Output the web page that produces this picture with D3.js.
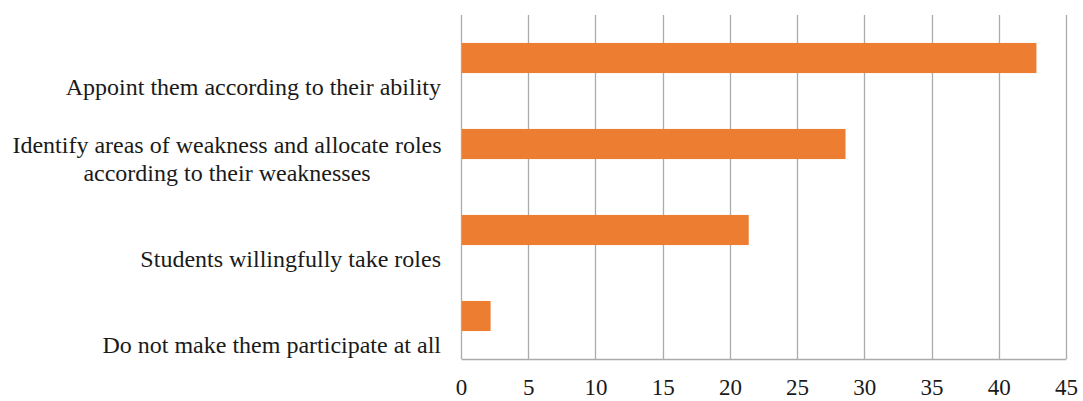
<!DOCTYPE html>
<html>
<head>
<meta charset="utf-8">
<script src="https://cdn.jsdelivr.net/npm/d3@7"></script>
<style>
  html, body { margin: 0; padding: 0; background: #fff; }
  svg text { font-family: "Liberation Serif", "Times New Roman", serif; fill: #1a1a1a; }
</style>
</head>
<body>
<svg id="chart" width="1083" height="401"></svg>
<script>
// Responses, top to bottom
const categories = [
  ["Appoint them according to their ability"],
  ["Identify areas of weakness and allocate roles", "according to their weaknesses"],
  ["Students willingfully take roles"],
  ["Do not make them participate at all"]
];
const values = [42.8, 28.6, 21.4, 2.2];
const xTicks = [0, 5, 10, 15, 20, 25, 30, 35, 40, 45];

const svg = d3.select("#chart");
const margin = { top: 15, right: 17, bottom: 42, left: 461 };
const width = 1083 - margin.left - margin.right;
const height = 401 - margin.top - margin.bottom;

const g = svg.append("g").attr("transform", `translate(${margin.left},${margin.top})`);

const x = d3.scaleLinear().domain([0, 45]).range([0, width]);
const y = d3.scaleBand().domain(d3.range(categories.length)).range([0, height]).paddingInner(0.65).paddingOuter(0.325);

// vertical gridlines
g.selectAll("line.grid").data(xTicks).join("line")
  .attr("class", "grid")
  .attr("x1", d => Math.round(x(d)) + 0.5).attr("x2", d => Math.round(x(d)) + 0.5)
  .attr("y1", 0).attr("y2", height)
  .attr("stroke", "#ababab").attr("stroke-width", 1.3);

// bottom axis
const xAxis = d3.axisBottom(x).tickValues(xTicks).tickSize(0);
const ax = g.append("g").attr("transform", `translate(0,${height})`).call(xAxis);
ax.select(".domain").attr("stroke", "#ababab").attr("stroke-width", 1.3);
ax.selectAll("text")
  .attr("dy", null)
  .attr("y", 36)
  .attr("font-size", "23px")
  .attr("font-family", "Liberation Serif, serif")
  .attr("fill", "#1a1a1a");

// bars
g.selectAll("rect.bar").data(values).join("rect")
  .attr("class", "bar")
  .attr("x", x(0) + 1)
  .attr("y", (d, i) => y(i))
  .attr("width", d => x(d) - x(0) - 1)
  .attr("height", y.bandwidth())
  .attr("fill", "#ED7D31");

// category labels, sitting below each bar's centre
const labelX = -20;
const labels = g.append("g");
categories.forEach((lines, i) => {
  const base = y(i) + y.bandwidth() / 2 + 37;
  const t = labels.append("text").attr("font-size", "24px");
  if (lines.length === 1) {
    t.attr("text-anchor", "end").attr("x", labelX).attr("y", base).text(lines[0]);
  } else {
    lines.forEach((ln, j) => {
      t.append("tspan")
        .attr("text-anchor", "middle")
        .attr("x", labelX - 214)
        .attr("y", base - (lines.length - 1 - j) * 28)
        .text(ln);
    });
  }
});
</script>
</body>
</html>
